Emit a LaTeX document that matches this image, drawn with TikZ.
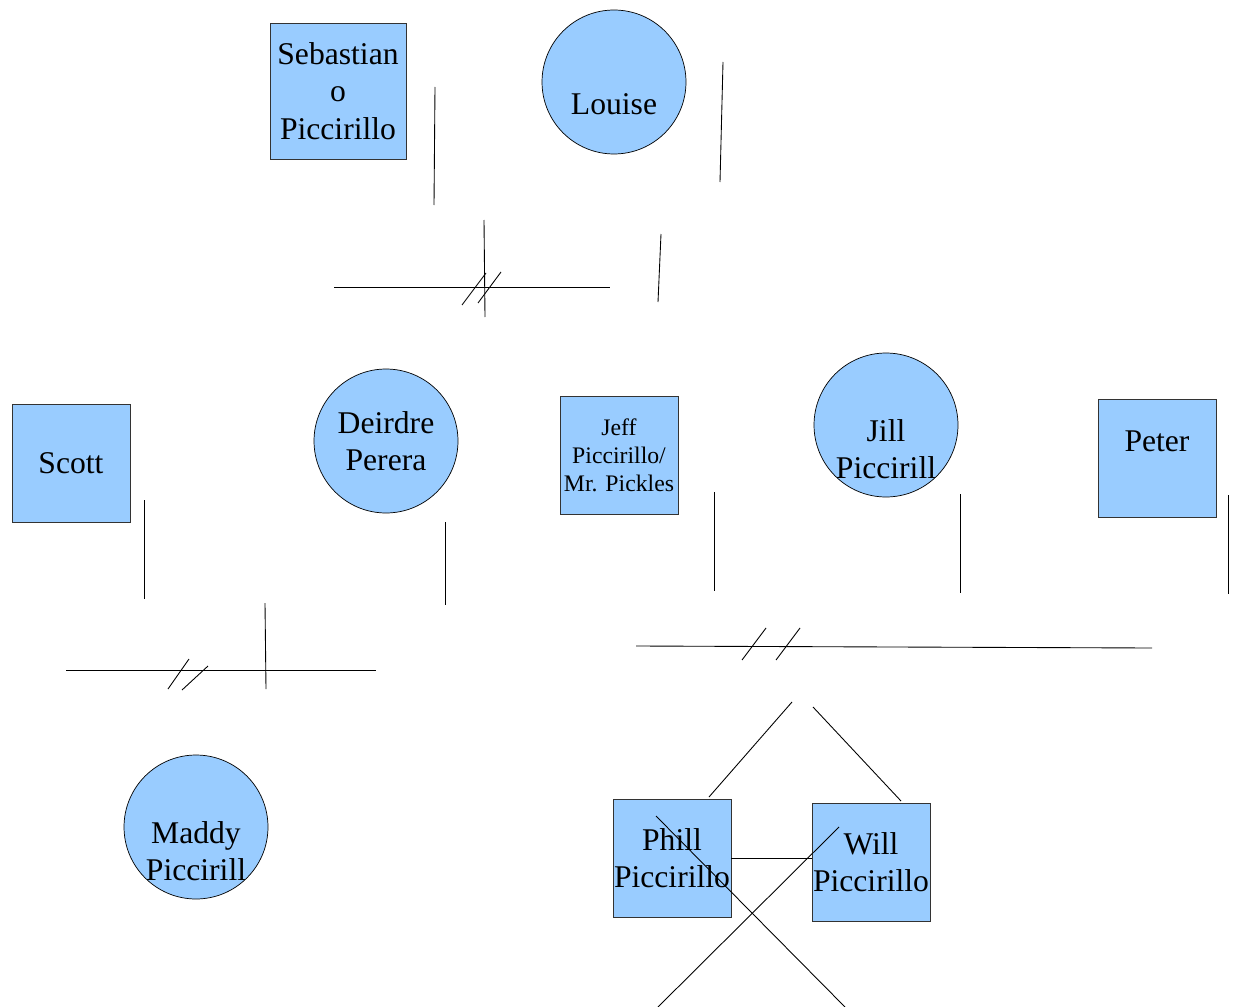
\documentclass[tikz,border=0pt]{standalone}
\usepackage{fontspec}
\setmainfont{Liberation Serif}
\definecolor{pblue}{HTML}{99CCFF}
\begin{document}
\begin{tikzpicture}[x=0.02cm,y=-0.02cm,
  male/.style={draw=black!80, fill=pblue, minimum size=2.36cm, inner sep=0pt, align=center, font=\fontsize{18}{21.3}\selectfont},
  female/.style={draw, circle, fill=pblue, minimum size=2.88cm, inner sep=0pt, align=center, font=\fontsize{18}{21.3}\selectfont},
  nametext/.style={align=center, font=\fontsize{18}{21.3}\selectfont},
  link/.style={line width=0.5pt}]
\useasboundingbox (0,0) rectangle (1234,1007);

% first generation
\node[male, minimum size=2.72cm] (sebastian) at (338,91) {Sebastian\\o\\Piccirillo};
\node[female, label={[nametext, name=louise-t, yshift=-0.44cm]center:Louise}] (louise) at (614,82) {};

% second generation
\node[male] (scott) at (71,463) {Scott};
\node[female] (deirdre) at (386,441) {Deirdre\\Perera};
\node[male, font=\fontsize{13.5}{16}\selectfont] (jeff) at (619,455) {Jeff\\Piccirillo/\\Mr. Pickles};
\node[female, label={[nametext, name=jill-t, yshift=-0.48cm]center:Jill\\Piccirill}] (jill) at (886,425) {};
\node[male, label={[nametext, name=peter-t, yshift=0.34cm]center:Peter}] (peter) at (1157,458) {};

% third generation
\node[female, label={[nametext, name=maddy-t, yshift=-0.48cm]center:Maddy\\Piccirill}] (maddy) at (196,827) {};
\node[male] (phill) at (672,858) {Phill\\Piccirillo};
\node[male] (will) at (871,862) {Will\\Piccirillo};

% top marriage
\draw[link] (435,87) -- (434,205);
\draw[link] (723,62) -- (720,182);
\draw[link] (484,220) -- (485,317);
\draw[link] (661,234) -- (658,302);
\draw[link] (334,287) -- (610,287);
\draw[link] (462,305) -- (486,273);
\draw[link] (478,303) -- (501,272);

% left marriage
\draw[link] (144,500) -- (144,599);
\draw[link] (445,522) -- (445,605);
\draw[link] (265,603) -- (266,689);
\draw[link] (66,670) -- (376,670);
\draw[link] (168,689) -- (189,659);
\draw[link] (182,690) -- (208,666);

% right marriage
\draw[link] (714,492) -- (714,591);
\draw[link] (960,494) -- (960,593);
\draw[link] (1228,495) -- (1228,594);
\draw[link] (636,646) -- (1152,648);
\draw[link] (742,660) -- (766,628);
\draw[link] (776,660) -- (800,628);

% children
\draw[link] (792,702) -- (709,797);
\draw[link] (813,707) -- (901,801);
\draw[link] (phill.east) -- (phill.east -| will.west);
\draw[link] (656,816) -- (845,1007);
\draw[link] (839,827) -- (658,1007);
\end{tikzpicture}
\end{document}
